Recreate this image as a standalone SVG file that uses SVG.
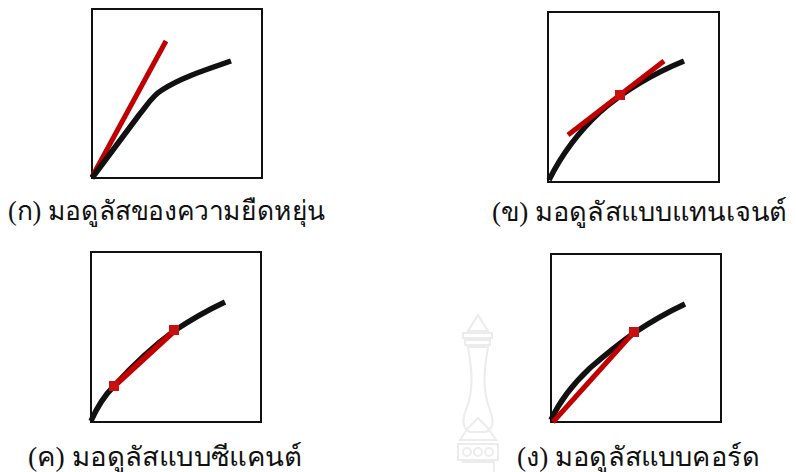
<svg xmlns="http://www.w3.org/2000/svg" width="796" height="472" viewBox="0 0 796 472">
<style>
.box{fill:none;stroke:#111;stroke-width:2}
.curve{fill:none;stroke:#111;stroke-width:5.5;stroke-linecap:butt}
.red{fill:none;stroke:#c00000;stroke-width:5}
.sq{fill:#c81010}
.lbl{font-family:"Liberation Serif","DejaVu Serif","Noto Serif","Noto Sans",serif;font-size:27px;fill:#111}
.wm{fill:none;stroke:#ececec;stroke-width:2}
</style>
<g id="watermark">
<path class="wm" d="M468 331 L478 315 L488 331 Z M463 333 H492 V338 H463 Z M465 340 H490 V345 H465 Z M468 347 C472 370 474 390 466 410 C462 420 462 428 470 432 H486 C494 428 494 420 490 410 C482 390 484 370 488 347 Z M460 440 L468 428 L478 418 L488 428 L496 440 Z M458 444 H498 V460 H458 Z M462 462 H494 V472"/>
<circle class="wm" cx="467" cy="452" r="4"/><circle class="wm" cx="478" cy="452" r="4"/><circle class="wm" cx="489" cy="452" r="4"/>
</g>
<g id="panel-a">
<rect class="box" x="92" y="9" width="170" height="169"/>
<path class="red" d="M92 177 L166 41"/>
<path class="curve" d="M92 178 L139 115 C148 104 152 96 162 90 C180 78 205 70 231 61"/>
<text class="lbl" x="8" y="220" textLength="317" lengthAdjust="spacingAndGlyphs">(ก) มอดูลัสของความยืดหยุ่น</text>
</g>
<g id="panel-b">
<rect class="box" x="548" y="12" width="171" height="170"/>
<path class="curve" d="M549 180 C560 158 575 135 600 112 C625 90 650 75 684 61"/>
<path class="red" d="M568 135 L664 61"/>
<rect class="sq" x="615" y="90" width="10" height="10"/>
<text class="lbl" x="492" y="221" textLength="295" lengthAdjust="spacingAndGlyphs">(ข) มอดูลัสแบบแทนเจนต์</text>
</g>
<g id="panel-c">
<rect class="box" x="91" y="252" width="170" height="170"/>
<path class="curve" d="M91 421 C98 405 105 395 114 386 C135 363 155 345 174 331 C192 319 208 310 225 302"/>
<path class="red" d="M114 386 L174 331" style="stroke-width:6"/>
<rect class="sq" x="109" y="381" width="10" height="10"/>
<rect class="sq" x="169" y="325" width="10" height="10"/>
<text class="lbl" x="28" y="466" textLength="274" lengthAdjust="spacingAndGlyphs">(ค) มอดูลัสแบบซีแคนต์</text>
</g>
<g id="panel-d">
<rect class="box" x="551" y="254" width="170" height="168"/>
<path class="curve" d="M551 420 C560 400 572 385 590 368 C605 355 620 343 634 333 C652 321 668 312 685 304"/>
<path class="red" d="M553 422 L634 332"/>
<rect class="sq" x="629" y="327" width="10" height="10"/>
<text class="lbl" x="517" y="466" textLength="243" lengthAdjust="spacingAndGlyphs">(ง) มอดูลัสแบบคอร์ด</text>
</g>
</svg>
